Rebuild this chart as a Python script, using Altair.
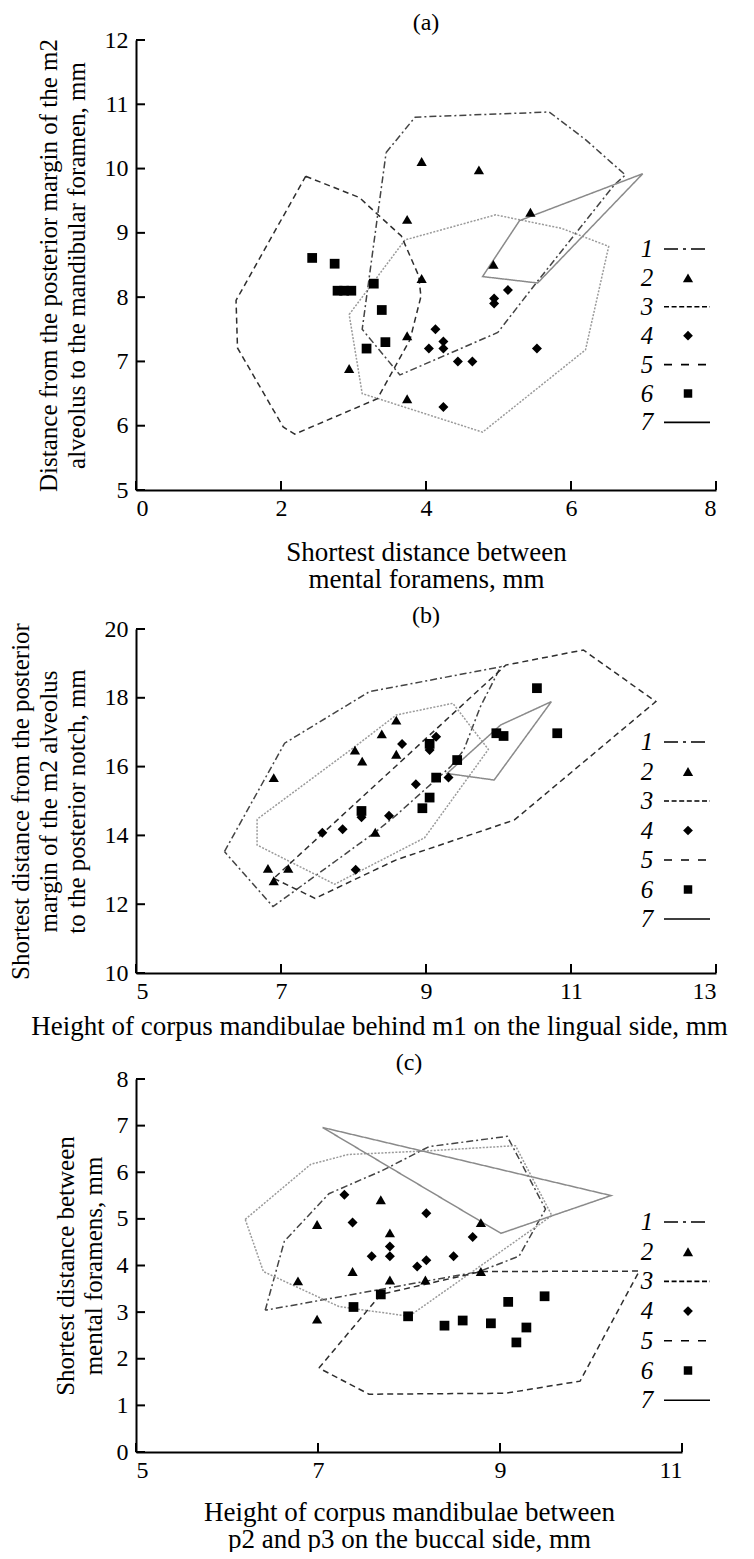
import altair as alt
import pandas as pd

FONT = "Liberation Serif"

# ---------------- Panel (a) data ----------------
a_tri_x = [3.94, 4.73, 3.74, 5.44, 4.93, 3.94, 3.74, 2.94, 3.74]
a_tri_y = [10.11, 9.98, 9.21, 9.32, 8.51, 8.29, 7.40, 6.89, 6.42]
a_dia_x = [5.13, 4.94, 4.94, 4.13, 4.24, 4.24, 4.04, 4.44, 4.64, 5.53, 4.24]
a_dia_y = [8.11, 7.98, 7.90, 7.50, 7.31, 7.20, 7.20, 7.00, 7.00, 7.20, 6.29]
a_sq_x = [2.43, 2.74, 2.78, 2.87, 2.97, 3.28, 3.39, 3.44, 3.18]
a_sq_y = [8.61, 8.52, 8.10, 8.10, 8.10, 8.21, 7.80, 7.30, 7.20]
a_p1_x = [3.45, 3.85, 5.70, 6.20, 6.75, 6.60, 5.54, 4.99, 3.64, 3.12]
a_p1_y = [10.25, 10.80, 10.88, 10.45, 9.90, 9.75, 8.25, 7.45, 6.79, 7.50]
a_p3_x = [2.94, 3.71, 4.96, 5.87, 6.52, 6.20, 4.78, 3.12]
a_p3_y = [7.73, 8.89, 9.28, 9.07, 8.79, 7.18, 5.90, 6.50]
a_p5_x = [2.34, 3.08, 3.33, 3.66, 3.90, 3.93, 3.78, 3.33, 2.19, 2.03, 1.40, 1.38]
a_p5_y = [9.88, 9.55, 9.29, 8.95, 8.33, 8.01, 7.34, 6.42, 5.87, 5.98, 7.21, 7.95]
a_p7_x = [6.99, 5.29, 4.78, 5.54]
a_p7_y = [9.92, 9.19, 8.32, 8.22]
a_xticks = [0, 2, 4, 6, 8]
a_yticks = [5, 6, 7, 8, 9, 10, 11, 12]

# ---------------- Panel (b) data ----------------
b_tri_x = [6.90, 6.82, 7.10, 6.90, 8.02, 8.12, 8.39, 8.59, 8.59, 8.30]
b_tri_y = [15.68, 13.04, 13.04, 12.68, 16.48, 16.16, 16.95, 17.35, 16.36, 14.09]
b_dia_x = [7.57, 7.85, 8.03, 8.49, 8.11, 8.67, 9.14, 9.05, 8.86, 9.31]
b_dia_y = [14.08, 14.18, 13.00, 14.57, 14.53, 16.66, 16.87, 16.48, 15.49, 15.68]
b_sq_x = [10.53, 10.81, 9.97, 10.07, 9.43, 9.14, 9.05, 8.95, 8.11, 9.05]
b_sq_y = [18.28, 16.97, 16.97, 16.89, 16.19, 15.68, 15.10, 14.79, 14.71, 16.66]
b_p1_x = [6.22, 7.05, 8.22, 10.03, 9.75, 9.52, 9.34, 8.59, 8.31, 6.89]
b_p1_y = [13.53, 16.68, 18.18, 18.90, 17.74, 16.48, 16.00, 14.59, 14.11, 11.93]
b_p3_x = [6.67, 6.67, 7.74, 8.98, 9.86, 9.37, 8.59, 8.02]
b_p3_y = [14.47, 13.72, 12.58, 13.93, 16.50, 17.84, 17.50, 16.58]
b_p5_x = [6.90, 7.47, 8.59, 10.22, 12.17, 11.17, 10.10]
b_p5_y = [12.75, 12.17, 13.29, 14.45, 17.89, 19.39, 18.95]
b_p7_x = [10.73, 10.03, 9.29, 9.94]
b_p7_y = [17.89, 17.21, 15.80, 15.61]
b_xticks = [5, 7, 9, 11, 13]
b_yticks = [10, 12, 14, 16, 18, 20]

# ---------------- Panel (c) data ----------------
c_tri_x = [6.99, 7.69, 7.79, 7.38, 6.78, 7.79, 6.99, 8.18, 8.79, 8.79]
c_tri_y = [4.88, 5.41, 4.70, 3.87, 3.67, 3.69, 2.85, 3.69, 4.92, 3.87]
c_dia_x = [7.29, 7.38, 7.59, 7.79, 7.79, 8.09, 8.19, 8.19, 8.49, 8.70]
c_dia_y = [5.52, 4.92, 4.20, 4.41, 4.20, 3.98, 4.11, 5.12, 4.20, 4.61]
c_sq_x = [7.39, 7.69, 7.99, 8.39, 8.59, 8.90, 9.09, 9.29, 9.18, 9.49]
c_sq_y = [3.11, 3.38, 2.91, 2.71, 2.82, 2.76, 3.22, 2.67, 2.35, 3.34]
c_p1_x = [6.42, 6.63, 7.12, 7.71, 8.22, 9.08, 9.50, 9.21, 8.77]
c_p1_y = [3.04, 4.52, 5.54, 6.04, 6.55, 6.77, 5.21, 4.20, 3.87]
c_p3_x = [6.20, 6.92, 7.33, 8.22, 9.17, 9.57, 8.00, 7.23, 6.40]
c_p3_y = [4.99, 6.17, 6.38, 6.46, 6.57, 5.07, 2.91, 3.12, 3.87]
c_p5_x = [7.01, 7.69, 8.79, 10.53, 9.88, 9.06, 7.56]
c_p5_y = [1.80, 3.38, 3.87, 3.88, 1.52, 1.26, 1.24]
c_p7_x = [7.05, 10.22, 9.01]
c_p7_y = [6.96, 5.50, 4.69]
c_xticks = [5, 7, 9, 11]
c_yticks = [0, 1, 2, 3, 4, 5, 6, 7, 8]

legend_labels = ["1", "2", "3", "4", "5", "6", "7"]

# ---------------- styles ----------------
POLY_GROUPS = ["1", "3", "5", "7"]
POLY_COLORS = ["#444444", "#9a9a9a", "#2e2e2e", "#8a8a8a"]
POLY_WIDTH = [1.5, 1.5, 1.7, 1.4]
POLY_DASH = [[7, 3, 2, 3], [2, 1.5], [6, 4], [1, 0]]
PT_GROUPS = ["2", "4", "6"]
PT_SHAPES = ["triangle-up", "diamond", "square"]
PT_SIZES = [105, 95, 72]
LEG_DASH = {"1": [14, 5, 3, 5], "3": [5, 2.6], "5": [8, 9], "7": [1, 0]}
LEG_SHAPE = {"2": "triangle-up", "4": "diamond", "6": "square"}
LEG_SIZE = {"2": 105, "4": 95, "6": 72}


def pts_df(tx, ty, dx, dy, sx, sy):
    rows = []
    for g, xs, ys in (("2", tx, ty), ("4", dx, dy), ("6", sx, sy)):
        rows += [{"x": x, "y": y, "grp": g} for x, y in zip(xs, ys)]
    return pd.DataFrame(rows)


def poly_df(polys):
    rows = []
    for g, (xs, ys) in polys.items():
        xs2 = list(xs) + [xs[0]]
        ys2 = list(ys) + [ys[0]]
        for i, (x, y) in enumerate(zip(xs2, ys2)):
            rows.append({"x": x, "y": y, "grp": g, "ord": i})
    return pd.DataFrame(rows)


def panel(pts, polys, xdom, ydom, xticks, yticks, w, h, title, title_off, xtitle, ytitle,
          ytitle_pad, xtitle_pad, leg_top, leg_step, xtitle_x=None):
    xs = alt.Scale(domain=xdom, nice=False, zero=False)
    ys = alt.Scale(domain=ydom, nice=False, zero=False)
    xaxis_kw = dict(values=xticks, ticks=False, title=xtitle, labelPadding=6,
                    titlePadding=xtitle_pad, titleLineHeight=27, titleFontSize=27)
    if xtitle_x is not None:
        xaxis_kw["titleX"] = xtitle_x
        xaxis_kw["titleAlign"] = "center"
    xaxis = alt.Axis(**xaxis_kw)
    yaxis = alt.Axis(values=yticks, ticks=False, title=ytitle, labelPadding=8,
                     titlePadding=ytitle_pad, titleLineHeight=28, titleFontSize=25)
    X = lambda f: alt.X(f, scale=xs, axis=xaxis)
    Y = lambda f: alt.Y(f, scale=ys, axis=yaxis)

    poly_layer = alt.Chart(polys).mark_line(clip=False).encode(
        x=X("x:Q"), y=Y("y:Q"), detail="grp:N", order="ord:Q",
        color=alt.Color("grp:N", scale=alt.Scale(domain=POLY_GROUPS, range=POLY_COLORS), legend=None),
        strokeDash=alt.StrokeDash("grp:N", scale=alt.Scale(domain=POLY_GROUPS, range=POLY_DASH), legend=None),
        strokeWidth=alt.StrokeWidth("grp:N", scale=alt.Scale(domain=POLY_GROUPS, range=POLY_WIDTH), legend=None),
    )
    pt_layer = alt.Chart(pts).mark_point(filled=True, opacity=1, color="black").encode(
        x=X("x:Q"), y=Y("y:Q"),
        shape=alt.Shape("grp:N", scale=alt.Scale(domain=PT_GROUPS, range=PT_SHAPES), legend=None),
        size=alt.Size("grp:N", scale=alt.Scale(domain=PT_GROUPS, range=PT_SIZES), legend=None),
    )
    ytick_layer = alt.Chart(pd.DataFrame({"v": yticks})).mark_rule(color="black", strokeWidth=2).encode(
        y=Y("v:Q"), x=alt.value(0), x2=alt.value(9))
    xtick_layer = alt.Chart(pd.DataFrame({"v": xticks})).mark_rule(color="black", strokeWidth=2).encode(
        x=X("v:Q"), y=alt.value(h), y2=alt.value(h - 9))

    layers = [poly_layer, pt_layer, ytick_layer, xtick_layer]
    one = pd.DataFrame({"k": [0]})
    for i, lab in enumerate(legend_labels):
        ly = leg_top + i * leg_step
        layers.append(alt.Chart(one).mark_text(text=lab, font=FONT, fontStyle="italic", fontSize=25,
                                               align="center", baseline="middle", color="black").encode(
            x=alt.value(511), y=alt.value(ly)))
        if lab in LEG_DASH:
            layers.append(alt.Chart(one).mark_rule(color="black", strokeWidth=1.6, strokeDash=LEG_DASH[lab]).encode(
                x=alt.value(528), x2=alt.value(574), y=alt.value(ly)))
        else:
            layers.append(alt.Chart(one).mark_point(shape=LEG_SHAPE[lab], filled=True, opacity=1,
                                                    color="black", size=LEG_SIZE[lab]).encode(
                x=alt.value(552), y=alt.value(ly)))

    return alt.layer(*layers).properties(
        width=w, height=h,
        title=alt.Title(title, font=FONT, fontSize=24, fontWeight="normal", anchor="middle",
                        frame="group", offset=title_off, color="black"),
    )


pa = panel(pts_df(a_tri_x, a_tri_y, a_dia_x, a_dia_y, a_sq_x, a_sq_y),
           poly_df({"1": (a_p1_x, a_p1_y), "3": (a_p3_x, a_p3_y), "5": (a_p5_x, a_p5_y), "7": (a_p7_x, a_p7_y)}),
           [0, 8], [5, 12], a_xticks, a_yticks, 580, 450, "(a)", -7,
           ["Shortest distance between", "mental foramens, mm"],
           ["Distance from the posterior margin of the m2", "alveolus to the mandibular foramen, mm"],
           15, 19, 209, 28.9)

pb = panel(pts_df(b_tri_x, b_tri_y, b_dia_x, b_dia_y, b_sq_x, b_sq_y),
           poly_df({"1": (b_p1_x, b_p1_y), "3": (b_p3_x, b_p3_y), "5": (b_p5_x, b_p5_y), "7": (b_p7_x, b_p7_y)}),
           [5, 13], [10, 20], b_xticks, b_yticks, 580, 344, "(b)", -11,
           "Height of corpus mandibulae behind m1 on the lingual side, mm",
           ["Shortest distance from the posterior", "margin of the m2 alveolus", "to the posterior notch, mm"],
           15, 10, 113, 29.5, xtitle_x=243)

pc = panel(pts_df(c_tri_x, c_tri_y, c_dia_x, c_dia_y, c_sq_x, c_sq_y),
           poly_df({"1": (c_p1_x, c_p1_y), "3": (c_p3_x, c_p3_y), "5": (c_p5_x, c_p5_y), "7": (c_p7_x, c_p7_y)}),
           [5, 11], [0, 8], c_xticks, c_yticks, 546, 373, "(c)", -8,
           ["Height of corpus mandibulae between", "p2 and p3 on the buccal side, mm"],
           ["Shortest distance between", "mental foramens, mm"],
           10, 17, 143, 29.7)

chart = alt.vconcat(pa, pb, pc, spacing=12).properties(
    padding={"left": 0, "top": 3, "right": 0, "bottom": 0}
).configure_view(stroke=None).configure_axis(
    labelFont=FONT, labelFontSize=24, labelColor="black",
    titleFont=FONT, titleFontWeight="normal", titleColor="black",
    domainColor="black", domainWidth=2, grid=False,
).configure_title(font=FONT)

chart.save("out.html", embed_options={"renderer": "svg", "actions": False})
